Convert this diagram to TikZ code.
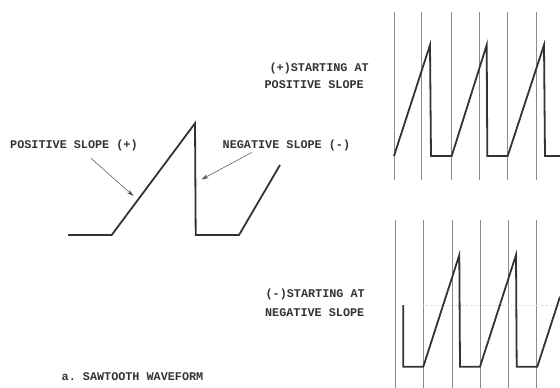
\documentclass[tikz,border=0pt]{standalone}
\usepackage{fontspec}
\setmonofont{Liberation Mono}
\usetikzlibrary{arrows.meta}
\tikzset{
  lbl/.style={font=\ttfamily\bfseries\fontsize{11.8}{14}\selectfont, inner sep=0pt, text=black!80},
  wave/.style={line width=1.8pt, draw=black!80, line join=miter},
  grid/.style={line width=0.6pt, draw=black!45},
  pointer/.style={line width=0.5pt, draw=black!70, -{Stealth[length=7pt,width=4pt]}},
}
\begin{document}
\begin{tikzpicture}[x=1pt,y=-1pt]
\useasboundingbox (0,0) rectangle (560,388);
% left sawtooth
\draw[wave] (68,235) -- (111.7,235) -- (195,123.3) -- (195.7,235) -- (239,235) -- (280,165);
\node[lbl, anchor=west] (pos) at (10,145) {POSITIVE SLOPE (+)};
\node[lbl, anchor=west] (neg) at (222.5,145) {NEGATIVE SLOPE (-)};
\coordinate (p1) at (90.7,158);
\coordinate (p2) at (133.5,196);
\coordinate (n1) at (251.7,152.5);
\coordinate (n2) at (201.5,179.5);
\draw[pointer] (p1) -- (p2);
\draw[pointer] (n1) -- (n2);
% right labels
\node[lbl, anchor=east] (tp1) at (369,68.3) {(+)STARTING AT};
\node[lbl, anchor=east] (tp2) at (364,84.5) {POSITIVE SLOPE};
\node[lbl, anchor=east] (bt1) at (365,294) {(-)STARTING AT};
\node[lbl, anchor=east] (bt2) at (364.5,312.3) {NEGATIVE SLOPE};
\node[lbl, anchor=west] (cap) at (61.5,377) {a. SAWTOOTH WAVEFORM};
% top grid
\foreach \x in {394,421.7,451,479.3,507.3,536} \draw[grid] (\x,12) -- (\x,180);
\draw[wave] (394,156) -- (430,45) -- (431,156) -- (451.7,156) -- (486.7,45) -- (487.3,156) -- (507.7,156) -- (544,45) -- (545,156) -- (560,156);
% bottom grid
\foreach \x in {395,423.3,452.3,480,508.3,536.7} \draw[grid] (\x,220) -- (\x,388);
\draw[black!18, line width=0.5pt, dotted] (423,305) -- (560,305);
\draw[wave] (403.3,305) -- (403.3,366.7) -- (423.3,366.7) -- (459.3,255) -- (460,366.7) -- (480,366.7) -- (516,255) -- (516.7,366.7) -- (537.3,366.7) -- (560,296.7);
\end{tikzpicture}
\end{document}
